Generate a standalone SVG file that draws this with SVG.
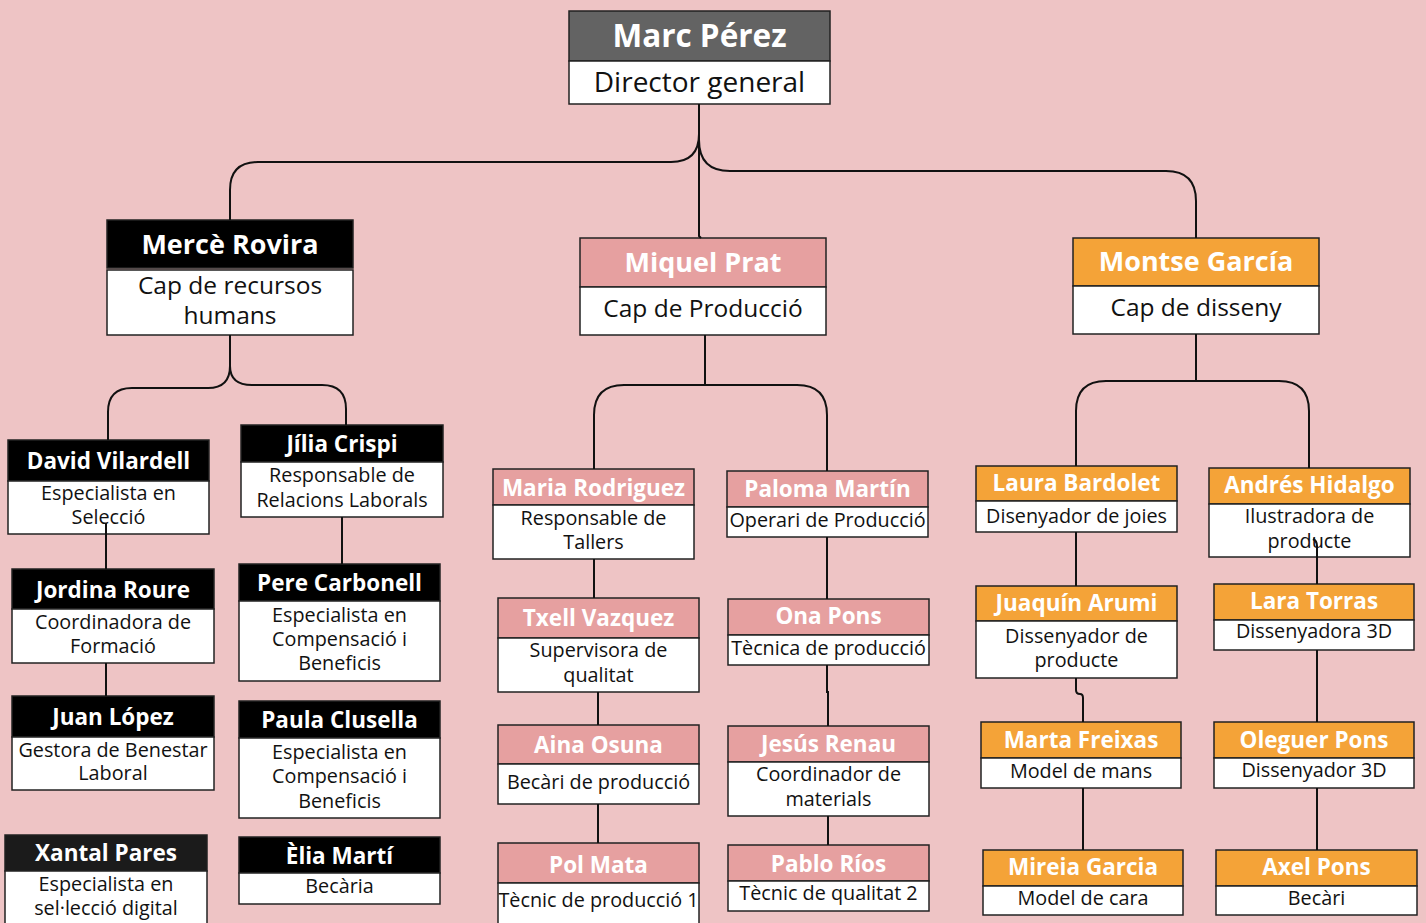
<svg xmlns="http://www.w3.org/2000/svg" width="1426" height="923" viewBox="0 0 1426 923">
<style>
.bg{fill:#EEC4C5}
.hd{stroke:#222;stroke-width:1.5}
.bd{fill:#fff;stroke:#222;stroke-width:1.5}
.gray{fill:#636363}.blk{fill:#000}.dk{fill:#1B1B1B}.pink{fill:#E6A0A0}.org{fill:#F4A338}
text{font-family:"Open Sans","Liberation Sans",sans-serif;text-anchor:middle}
.n1{font-size:31.5px;font-weight:700;fill:#fff}
.t1{font-size:28px;fill:#111}
.n2{font-size:27px;font-weight:700;fill:#fff}
.t2{font-size:24.5px;fill:#111}
.n3{font-size:22.5px;font-weight:700;fill:#fff}
.t3{font-size:19.8px;fill:#111}
.c{fill:none;stroke:#111;stroke-width:2}
</style>
<rect class="bg" x="0" y="0" width="1426" height="923"/>

<g id="marc-perez">
<rect class="hd gray" x="569" y="11" width="261" height="50"/>
<rect class="bd" x="569" y="61" width="261" height="43"/>
<text class="n1" x="699.5" y="47">Marc Pérez</text>
<text class="t1" x="699.5" y="92">Director general</text>
</g>

<g id="merce-rovira">
<rect class="hd blk" x="107" y="220" width="246" height="48"/>
<rect class="bd" x="107" y="270" width="246" height="65"/>
<text class="n2" x="230" y="254">Mercè Rovira</text>
<text class="t2" x="230" y="294">Cap de recursos</text>
<text class="t2" x="230" y="324">humans</text>
</g>

<g id="miquel-prat">
<rect class="hd pink" x="580" y="238" width="246" height="49"/>
<rect class="bd" x="580" y="287" width="246" height="48"/>
<text class="n2" x="703" y="272">Miquel Prat</text>
<text class="t2" x="703" y="317">Cap de Producció</text>
</g>

<g id="montse-garcia">
<rect class="hd org" x="1073" y="238" width="246" height="48"/>
<rect class="bd" x="1073" y="286" width="246" height="48"/>
<text class="n2" x="1196" y="271">Montse García</text>
<text class="t2" x="1196" y="316">Cap de disseny</text>
</g>

<!-- Left column -->
<g id="david-vilardell">
<rect class="hd blk" x="8" y="440" width="201" height="41"/>
<rect class="bd" x="8" y="481" width="201" height="53"/>
<text class="n3" x="108.5" y="469">David Vilardell</text>
<text class="t3" x="108.5" y="500">Especialista en</text>
<text class="t3" x="108.5" y="524">Selecció</text>
</g>
<g id="jordina-roure">
<rect class="hd blk" x="12" y="569" width="202" height="40"/>
<rect class="bd" x="12" y="609" width="202" height="54"/>
<text class="n3" x="113" y="598">Jordina Roure</text>
<text class="t3" x="113" y="629">Coordinadora de</text>
<text class="t3" x="113" y="653">Formació</text>
</g>
<g id="juan-lopez">
<rect class="hd blk" x="12" y="696" width="202" height="41"/>
<rect class="bd" x="12" y="737" width="202" height="53"/>
<text class="n3" x="113" y="725">Juan López</text>
<text class="t3" x="113" y="757">Gestora de Benestar</text>
<text class="t3" x="113" y="780">Laboral</text>
</g>
<g id="xantal-pares">
<rect class="hd dk" x="5" y="835" width="202" height="36"/>
<rect class="bd" x="5" y="871" width="202" height="60"/>
<text class="n3" x="106" y="861">Xantal Pares</text>
<text class="t3" x="106" y="891">Especialista en</text>
<text class="t3" x="106" y="915">sel·lecció digital</text>
</g>

<g id="jilia-crispi">
<rect class="hd blk" x="241" y="425" width="202" height="37"/>
<rect class="bd" x="241" y="462" width="202" height="55"/>
<text class="n3" x="342" y="452">Jília Crispi</text>
<text class="t3" x="342" y="482">Responsable de</text>
<text class="t3" x="342" y="507">Relacions Laborals</text>
</g>
<g id="pere-carbonell">
<rect class="hd blk" x="239" y="564" width="201" height="37"/>
<rect class="bd" x="239" y="601" width="201" height="80"/>
<text class="n3" x="339.5" y="591">Pere Carbonell</text>
<text class="t3" x="339.5" y="622">Especialista en</text>
<text class="t3" x="339.5" y="646">Compensació i</text>
<text class="t3" x="339.5" y="670">Beneficis</text>
</g>
<g id="paula-clusella">
<rect class="hd blk" x="239" y="701" width="201" height="37"/>
<rect class="bd" x="239" y="738" width="201" height="80"/>
<text class="n3" x="339.5" y="728">Paula Clusella</text>
<text class="t3" x="339.5" y="759">Especialista en</text>
<text class="t3" x="339.5" y="783">Compensació i</text>
<text class="t3" x="339.5" y="808">Beneficis</text>
</g>
<g id="elia-marti">
<rect class="hd blk" x="239" y="837" width="201" height="36"/>
<rect class="bd" x="239" y="873" width="201" height="31"/>
<text class="n3" x="339.5" y="864">Èlia Martí</text>
<text class="t3" x="339.5" y="893">Becària</text>
</g>

<!-- Middle column -->
<g id="maria-rodriguez">
<rect class="hd pink" x="493" y="469" width="201" height="36"/>
<rect class="bd" x="493" y="505" width="201" height="54"/>
<text class="n3" x="593.5" y="496">Maria Rodriguez</text>
<text class="t3" x="593.5" y="525">Responsable de</text>
<text class="t3" x="593.5" y="549">Tallers</text>
</g>
<g id="txell-vazquez">
<rect class="hd pink" x="498" y="598" width="201" height="40"/>
<rect class="bd" x="498" y="638" width="201" height="54"/>
<text class="n3" x="598.5" y="626">Txell Vazquez</text>
<text class="t3" x="598.5" y="657">Supervisora de</text>
<text class="t3" x="598.5" y="682">qualitat</text>
</g>
<g id="aina-osuna">
<rect class="hd pink" x="498" y="725" width="201" height="39"/>
<rect class="bd" x="498" y="764" width="201" height="40"/>
<text class="n3" x="598.5" y="753">Aina Osuna</text>
<text class="t3" x="598.5" y="789">Becàri de producció</text>
</g>
<g id="pol-mata">
<rect class="hd pink" x="498" y="843" width="201" height="40"/>
<rect class="bd" x="498" y="883" width="201" height="50"/>
<text class="n3" x="598.5" y="873">Pol Mata</text>
<text class="t3" x="598.5" y="907">Tècnic de producció 1</text>
</g>

<g id="paloma-martin">
<rect class="hd pink" x="727" y="471" width="201" height="36"/>
<rect class="bd" x="727" y="507" width="201" height="30"/>
<text class="n3" x="827.5" y="497">Paloma Martín</text>
<text class="t3" x="827.5" y="527">Operari de Producció</text>
</g>
<g id="ona-pons">
<rect class="hd pink" x="728" y="599" width="201" height="36"/>
<rect class="bd" x="728" y="635" width="201" height="30"/>
<text class="n3" x="828.5" y="624">Ona Pons</text>
<text class="t3" x="828.5" y="655">Tècnica de producció</text>
</g>
<g id="jesus-renau">
<rect class="hd pink" x="728" y="726" width="201" height="36"/>
<rect class="bd" x="728" y="762" width="201" height="54"/>
<text class="n3" x="828.5" y="752">Jesús Renau</text>
<text class="t3" x="828.5" y="781">Coordinador de</text>
<text class="t3" x="828.5" y="806">materials</text>
</g>
<g id="pablo-rios">
<rect class="hd pink" x="728" y="845" width="201" height="36"/>
<rect class="bd" x="728" y="881" width="201" height="30"/>
<text class="n3" x="828.5" y="872">Pablo Ríos</text>
<text class="t3" x="828.5" y="900">Tècnic de qualitat 2</text>
</g>

<!-- Right column -->
<g id="laura-bardolet">
<rect class="hd org" x="976" y="466" width="201" height="35"/>
<rect class="bd" x="976" y="501" width="201" height="31"/>
<text class="n3" x="1076.5" y="491">Laura Bardolet</text>
<text class="t3" x="1076.5" y="523">Disenyador de joies</text>
</g>
<g id="juaquin-arumi">
<rect class="hd org" x="976" y="586" width="201" height="35"/>
<rect class="bd" x="976" y="621" width="201" height="57"/>
<text class="n3" x="1076.5" y="611">Juaquín Arumi</text>
<text class="t3" x="1076.5" y="643">Dissenyador de</text>
<text class="t3" x="1076.5" y="667">producte</text>
</g>
<g id="marta-freixas">
<rect class="hd org" x="981" y="722" width="200" height="36"/>
<rect class="bd" x="981" y="758" width="200" height="30"/>
<text class="n3" x="1081" y="748">Marta Freixas</text>
<text class="t3" x="1081" y="778">Model de mans</text>
</g>
<g id="mireia-garcia">
<rect class="hd org" x="983" y="850" width="200" height="36"/>
<rect class="bd" x="983" y="886" width="200" height="29"/>
<text class="n3" x="1083" y="875">Mireia Garcia</text>
<text class="t3" x="1083" y="905">Model de cara</text>
</g>

<g id="andres-hidalgo">
<rect class="hd org" x="1209" y="468" width="201" height="36"/>
<rect class="bd" x="1209" y="504" width="201" height="53"/>
<text class="n3" x="1309.5" y="493">Andrés Hidalgo</text>
<text class="t3" x="1309.5" y="523">Ilustradora de</text>
<text class="t3" x="1309.5" y="548">producte</text>
</g>
<g id="lara-torras">
<rect class="hd org" x="1214" y="584" width="200" height="36"/>
<rect class="bd" x="1214" y="620" width="200" height="30"/>
<text class="n3" x="1314" y="609">Lara Torras</text>
<text class="t3" x="1314" y="638">Dissenyadora 3D</text>
</g>
<g id="oleguer-pons">
<rect class="hd org" x="1214" y="722" width="200" height="36"/>
<rect class="bd" x="1214" y="758" width="200" height="30"/>
<text class="n3" x="1314" y="748">Oleguer Pons</text>
<text class="t3" x="1314" y="777">Dissenyador 3D</text>
</g>
<g id="axel-pons">
<rect class="hd org" x="1216" y="850" width="201" height="36"/>
<rect class="bd" x="1216" y="886" width="201" height="29"/>
<text class="n3" x="1316.5" y="875">Axel Pons</text>
<text class="t3" x="1316.5" y="905">Becàri</text>
</g>

<g id="connectors">
<path class="c" d="M699,104 V134 Q699,162 671,162 H258 Q230,162 230,190 V220"/>
<path class="c" d="M699,104 V236 L701,238"/>
<path class="c" d="M699,140 Q699,171 730,171 H1166 Q1196,171 1196,201 V238"/>
<path class="c" d="M230,335 V366 Q230,388 208,388 H132 Q108,388 108,412 V440"/>
<path class="c" d="M230,366 Q230,385 252,385 H322 Q346,385 346,409 V425"/>
<path class="c" d="M705,335 V385 H624 Q594,385 594,415 V469"/>
<path class="c" d="M705,385 H797 Q827,385 827,415 V471"/>
<path class="c" d="M1196,334 V381 H1106 Q1076,381 1076,411 V466"/>
<path class="c" d="M1196,381 H1279 Q1309,381 1309,411 V468"/>
<path class="c" d="M106,523 V569"/>
<path class="c" d="M106,663 V696"/>
<path class="c" d="M342,517 V564"/>
<path class="c" d="M594,559 V598"/>
<path class="c" d="M598,692 V725"/>
<path class="c" d="M598,804 V843"/>
<path class="c" d="M827,537 V599"/>
<path class="c" d="M827,665 V692 H828 V726"/>
<path class="c" d="M828,816 V845"/>
<path class="c" d="M1076,532 V586"/>
<path class="c" d="M1076,678 V690 Q1076,694 1080,694 Q1083,694 1083,698 V722"/>
<path class="c" d="M1083,788 V850"/>
<path class="c" d="M1317,584 V546 Q1317,541 1313,539"/>
<path class="c" d="M1317,650 V722"/>
<path class="c" d="M1317,788 V850"/>
</g>
</svg>
